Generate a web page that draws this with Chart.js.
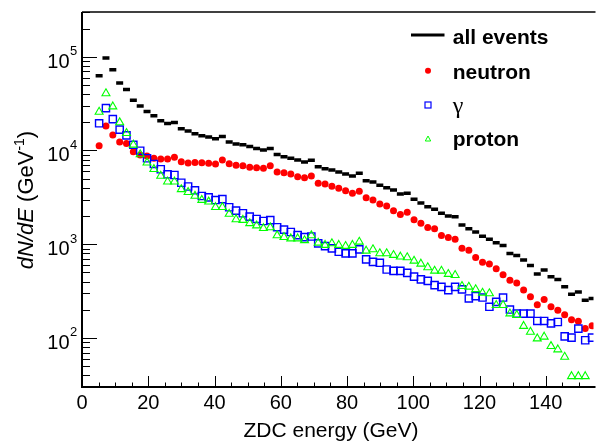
<!DOCTYPE html>
<html>
<head>
<meta charset="utf-8">
<script src="https://cdn.jsdelivr.net/npm/chart.js@4.4.0/dist/chart.umd.min.js"></script>
<style>
  body { margin: 0; background: #fff; }
  #wrap { width: 601px; height: 443px; }
</style>
</head>
<body>
<div id="wrap"><canvas id="zdc" width="601" height="443"></canvas></div>
<script>
// bin centres (GeV)
const energies = [5.17, 7.23, 9.30, 11.37, 13.43, 15.50, 17.57, 19.63, 21.70, 23.77,
  25.83, 27.90, 29.97, 32.03, 34.10, 36.17, 38.23, 40.30, 42.37, 44.43,
  46.50, 48.57, 50.63, 52.70, 54.77, 56.83, 58.90, 60.97, 63.03, 65.10,
  67.17, 69.23, 71.30, 73.37, 75.43, 77.50, 79.57, 81.63, 83.70, 85.77,
  87.83, 89.90, 91.97, 94.03, 96.10, 98.17, 100.23, 102.30, 104.37, 106.43,
  108.50, 110.57, 112.63, 114.70, 116.77, 118.83, 120.90, 122.97, 125.03, 127.10,
  129.17, 131.23, 133.30, 135.37, 137.43, 139.50, 141.57, 143.63, 145.70, 147.77,
  149.83, 151.90, 153.97];

const allEvents = [62500, 96800, 72600, 52300, 44700, 34400, 29900, 26000, 23400, 20800,
  19400, 19900, 17100, 16100, 15100, 14400, 13900, 13300, 14100, 12300,
  11700, 11500, 11000, 10500, 10100, 10500, 9040, 8590, 8260, 7930,
  7550, 7890, 6710, 6400, 6190, 5900, 5610, 5350, 5710, 4760,
  4610, 4250, 4010, 3790, 3430, 3490, 3010, 2750, 2510, 2360,
  2140, 2000, 1960, 1600, 1460, 1350, 1220, 1130, 1035, 972,
  798, 760, 678, 594, 480, 530, 449, 421, 351, 293,
  310, 253, 264];

const neutron = [11200, 18300, 14600, 12300, 11900, 9720, 8960, 8750, 8260, 8130,
  8130, 8470, 7600, 7360, 7450, 7410, 7310, 7180, 7930, 7230,
  6950, 6880, 6640, 6560, 6460, 6880, 5900, 5800, 5610, 5250,
  5120, 5350, 4470, 4400, 4150, 3950, 3720, 3490, 3670, 3130,
  2960, 2690, 2560, 2280, 2070, 2200, 1830, 1670, 1510, 1460,
  1240, 1180, 1130, 904, 865, 723, 644, 614, 547, 472,
  414, 387, 324, 275, 226, 258, 215, 198, 177, 156,
  151, 126, 135];

const gamma = [19500, 28300, 21600, 16700, 14500, 11500, 9950, 8260, 7180, 6310,
  5570, 5480, 4530, 4130, 3760, 3270, 3160, 2960, 3030, 2480,
  2280, 2140, 1970, 1860, 1770, 1810, 1520, 1430, 1350, 1250,
  1190, 1210, 1020, 955, 904, 830, 798, 798, 881, 689,
  649, 634, 538, 520, 520, 495, 451, 422, 406, 366,
  351, 324, 351, 330, 264, 279, 270, 215, 243, 270,
  201, 182, 182, 182, 152, 152, 143, 148, 104, 101,
  126, 94.6, 101];

const proton = [25800, 40600, 29400, 19900, 15300, 11500, 9080, 7410, 6310, 5350,
  4650, 4650, 3850, 3590, 3270, 2960, 2840, 2480, 2480, 2100,
  1840, 1810, 1670, 1580, 1480, 1510, 1240, 1190, 1150, 1150,
  1100, 1240, 1035, 980, 1020, 980, 955, 980, 1060, 851,
  881, 798, 798, 766, 735, 723, 665, 618, 566, 520,
  520, 480, 468, 357, 351, 330, 303, 299, 224, 224,
  182, 175, 134, 116, 98.6, 103, 81.7, 75.3, 62.8, 39,
  39, 39, null];

const xTickLabels = [0, 20, 40, 60, 80, 100, 120, 140];
const yDecades = [2, 3, 4, 5];
const legendLabels = ['all events', 'neutron', 'γ', 'proton'];

const SANS = '"Liberation Sans", Arial, Helvetica, sans-serif';

function pts(ys) {
  return energies.map((e, i) => ({ x: e, y: ys[i] }));
}

// ROOT-like frame, inward ticks, labels, titles and legend
const rootStyle = {
  id: 'rootStyle',
  afterDraw(chart) {
    const ctx = chart.ctx;
    const a = chart.chartArea;
    const xs = chart.scales.x, ys = chart.scales.y;
    ctx.save();
    ctx.strokeStyle = '#000';
    ctx.fillStyle = '#000';

    // frame
    ctx.lineWidth = 2;
    ctx.beginPath();
    ctx.moveTo(a.left, a.top); ctx.lineTo(a.left, a.bottom); ctx.lineTo(a.right + 2, a.bottom);
    ctx.stroke();
    ctx.lineWidth = 1.5;
    ctx.beginPath();
    ctx.moveTo(a.left, a.top); ctx.lineTo(a.right + 2, a.top);
    ctx.stroke();

    // x ticks
    ctx.lineWidth = 1;
    for (let v = 0; v <= 150; v += 5) {
      const px = Math.round(xs.getPixelForValue(v)) + 0.5;
      const len = v % 20 === 0 ? 11 : 4.5;
      ctx.beginPath(); ctx.moveTo(px, a.bottom); ctx.lineTo(px, a.bottom - len); ctx.stroke();
    }
    // y ticks
    for (let k = 1; k <= 5; k++) {
      for (let m = 1; m <= 9; m++) {
        const v = m * Math.pow(10, k);
        if (v < ys.min || v > ys.max) continue;
        const py = Math.round(ys.getPixelForValue(v)) + 0.5;
        const len = m === 1 ? 15 : 8;
        ctx.beginPath(); ctx.moveTo(a.left, py); ctx.lineTo(a.left + len, py); ctx.stroke();
      }
    }

    // x labels
    ctx.font = '20px ' + SANS;
    ctx.textAlign = 'center';
    ctx.textBaseline = 'alphabetic';
    xTickLabels.forEach(v => {
      ctx.fillText(String(v), xs.getPixelForValue(v), 409);
    });

    // y labels 10^k
    yDecades.forEach(k => {
      const py = ys.getPixelForValue(Math.pow(10, k));
      ctx.font = '20px ' + SANS;
      ctx.textAlign = 'right';
      ctx.fillText('10', 69.5, py + 11);
      ctx.font = '13px ' + SANS;
      ctx.textAlign = 'left';
      ctx.fillText(String(k), 70, py - 1.5);
    });

    // x title
    ctx.font = '21px ' + SANS;
    ctx.textAlign = 'center';
    ctx.fillText('ZDC energy (GeV)', 331, 437);

    // y title (rotated, mixed styles)
    const parts = [
      { t: 'dN/dE', f: 'italic 22px ' + SANS, dy: 0 },
      { t: ' (GeV', f: '22px ' + SANS, dy: 0 },
      { t: '-1', f: '14px ' + SANS, dy: -9 },
      { t: ')', f: '22px ' + SANS, dy: 0 }
    ];
    let total = 0;
    parts.forEach(p => { ctx.font = p.f; p.w = ctx.measureText(p.t).width; total += p.w; });
    ctx.save();
    ctx.translate(33, 200);
    ctx.rotate(-Math.PI / 2);
    ctx.textAlign = 'left';
    let cx = -total / 2;
    parts.forEach(p => { ctx.font = p.f; ctx.fillText(p.t, cx, p.dy); cx += p.w; });
    ctx.restore();

    // legend
    const mx = 428, tx = 452.7;
    const baselines = [44, 79.3, 112.5, 146];
    const centers = [35, 70.7, 105, 139];
    // all events: thick line
    ctx.lineWidth = 3;
    ctx.beginPath(); ctx.moveTo(411, centers[0]); ctx.lineTo(444.5, centers[0]); ctx.stroke();
    // neutron: red dot
    ctx.fillStyle = '#ff0000';
    ctx.beginPath(); ctx.arc(mx, centers[1], 3, 0, Math.PI * 2); ctx.fill();
    // gamma: open blue square
    ctx.strokeStyle = '#0000ff'; ctx.lineWidth = 1.2;
    ctx.strokeRect(mx - 3, centers[2] - 3, 6, 6);
    // proton: open green triangle
    ctx.strokeStyle = '#00ff00'; ctx.lineWidth = 1;
    ctx.beginPath();
    ctx.moveTo(mx, centers[3] - 3); ctx.lineTo(mx + 2.7, centers[3] + 2); ctx.lineTo(mx - 2.7, centers[3] + 2);
    ctx.closePath(); ctx.stroke();

    ctx.fillStyle = '#000';
    ctx.textAlign = 'left';
    legendLabels.forEach((lab, i) => {
      ctx.font = lab === 'γ' ? '24px "Liberation Serif", "DejaVu Serif", serif' : 'bold 21px ' + SANS;
      ctx.fillText(lab, tx, baselines[i]);
    });
    ctx.restore();
  }
};

new Chart(document.getElementById('zdc'), {
  type: 'scatter',
  data: {
    datasets: [
      { label: 'proton', data: pts(proton), pointStyle: 'triangle', pointRadius: 4.6,
        borderColor: '#00ff00', backgroundColor: 'rgba(0,0,0,0)', borderWidth: 1.1, order: 0 },
      { label: 'γ', data: pts(gamma), pointStyle: 'rect', pointRadius: 5.1,
        borderColor: '#0000ff', backgroundColor: 'rgba(0,0,0,0)', borderWidth: 1.4, order: 1 },
      { label: 'neutron', data: pts(neutron), pointStyle: 'circle', pointRadius: 3.5,
        borderColor: '#ff0000', backgroundColor: '#ff0000', borderWidth: 0, order: 2 },
      { label: 'all events', data: pts(allEvents), pointStyle: 'line', pointRadius: 3.5,
        borderColor: '#000', backgroundColor: '#000', borderWidth: 3.5, order: 3 }
    ]
  },
  options: {
    responsive: false,
    animation: false,
    layout: { padding: { top: 12, right: 0, left: 0, bottom: 0 } },
    plugins: { legend: { display: false }, tooltip: { enabled: false } },
    scales: {
      x: {
        type: 'linear', min: 0, max: 154.4,
        grid: { display: false }, border: { display: false }, ticks: { display: false },
        afterFit(s) { s.height = 56; }
      },
      y: {
        type: 'logarithmic', min: 30, max: 300000,
        grid: { display: false }, border: { display: false }, ticks: { display: false },
        afterFit(s) { s.width = 82; }
      }
    }
  },
  plugins: [rootStyle]
});
</script>
</body>
</html>
